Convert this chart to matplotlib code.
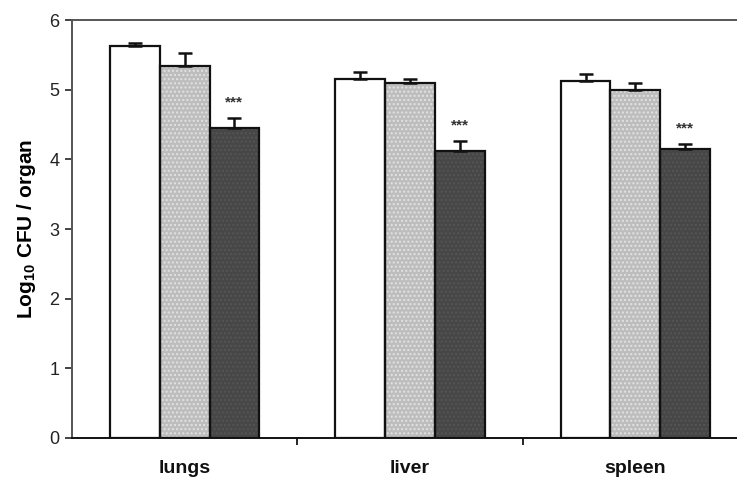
import matplotlib
matplotlib.use("Agg")
import matplotlib.pyplot as plt
import numpy as np

plt.rcParams['font.family'] = ['Liberation Sans', 'DejaVu Sans']
plt.rcParams['hatch.linewidth'] = 1.0

categories = ["lungs", "liver", "spleen"]
means_a = [5.62, 5.16, 5.13]
err_a = [0.05, 0.09, 0.09]
means_b = [5.34, 5.10, 4.99]
err_b = [0.19, 0.06, 0.11]
means_c = [4.45, 4.12, 4.15]
err_c = [0.14, 0.15, 0.07]
stars = ["***", "***", "***"]

fig = plt.figure(figsize=(7.37, 4.8), dpi=100)
ax = fig.add_axes([72/737, 42/480, (748-72)/737, (438-20)/480])

x = np.arange(len(categories))
w = 0.221
series = [(means_a, err_a, "#ffffff", None), (means_b, err_b, "#bdbdbd", "#e2e2e2"),
          (means_c, err_c, "#474747", "#555555")]
for i, (m, e, c, hc) in enumerate(series):
    pos = x + (i - 1) * w
    ax.bar(pos, m, width=w, color=c, edgecolor="none", linewidth=0, zorder=2)
    if hc is not None:
        ax.bar(pos, m, width=w, color="none", edgecolor=hc, hatch="....", linewidth=0, zorder=2.1)
    ax.bar(pos, m, width=w, color="none", edgecolor="#111111", linewidth=1.6, zorder=2.2)
    ax.errorbar(pos, m, yerr=[np.zeros(len(m)), e], fmt="none", ecolor="#111111",
                elinewidth=1.8, capsize=5, capthick=1.8, zorder=3)

for i in range(len(categories)):
    ax.text(x[i] + w, means_c[i] + err_c[i] + 0.22, stars[i], ha="center", va="center",
            fontsize=11, fontweight="bold", color="#333333")

ax.set_xlim(-0.5, 2.5)
ax.set_ylim(0, 6)
ax.set_yticks(range(0, 7))
ax.set_xticks([0.5, 1.5])
ax.set_xticklabels([])
ax.tick_params(axis="y", direction="out", length=5, width=1.2, labelsize=13, colors="#222222", pad=4)
ax.tick_params(axis="x", direction="out", length=5, width=1.2)
for i, c in enumerate(categories):
    ax.text(x[i], -0.44, c, ha="center", va="center", fontsize=14, fontweight="bold",
            transform=ax.transData, color="#111111")

ax.set_ylabel(r"Log$_{\mathregular{10}}$ CFU / organ", fontsize=15, fontweight="bold", labelpad=8)
for s in ["left", "bottom", "top"]:
    ax.spines[s].set_linewidth(1.4)
    ax.spines[s].set_color("#555555")
ax.spines["bottom"].set_color("#111111")
ax.spines["right"].set_visible(False)

fig.savefig("out.png", dpi=100)
